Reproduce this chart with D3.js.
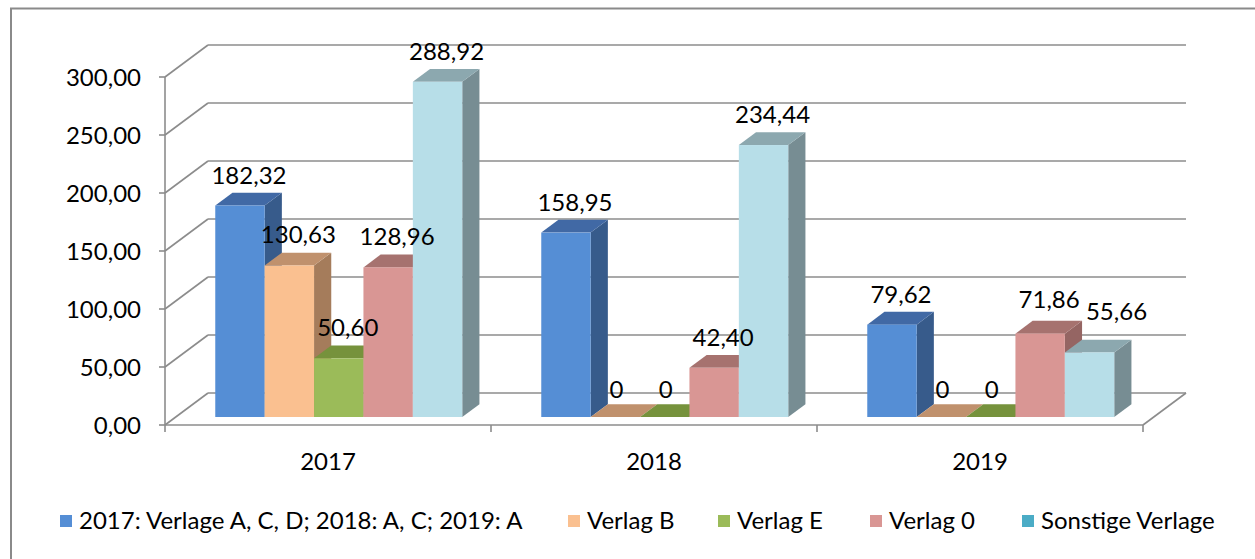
<!DOCTYPE html>
<html><head><meta charset="utf-8">
<script src="https://cdn.jsdelivr.net/npm/d3@7"></script>
<style>html,body{margin:0;padding:0;background:#fff;}svg{display:block;}</style>
</head><body>
<svg id="c" width="1255" height="559"></svg>
<script>
const categories = ["2017", "2018", "2019"];
const seriesNames = ["2017: Verlage A, C, D; 2018: A, C; 2019: A", "Verlag B", "Verlag E", "Verlag 0", "Sonstige Verlage"];
const valuesA = [182.32, 158.95, 79.62];
const valuesB = [130.63, 0, 0];
const valuesE = [50.60, 0, 0];
const values0 = [128.96, 42.40, 71.86];
const valuesS = [288.92, 234.44, 55.66];
const yTicks = [0, 50, 100, 150, 200, 250, 300];

const seriesValues = [valuesA, valuesB, valuesE, values0, valuesS];
const faceColors = [
  {front:"#558ED5", top:"#4169A5", side:"#375B8B", legend:"#558ED5"},
  {front:"#FAC090", top:"#C0916D", side:"#A57C5B", legend:"#FAC090"},
  {front:"#9BBB59", top:"#76923C", side:"#6A8435", legend:"#9BBB59"},
  {front:"#D99694", top:"#A6726F", side:"#956563", legend:"#D99694"},
  {front:"#B7DEE8", top:"#8CA8AF", side:"#778D93", legend:"#4BACC6"}
];

const svg = d3.select("#c");
const font = "Lato, 'Open Sans', sans-serif";
const fs = 24;

svg.append("path").attr("d","M11,559 L11,8.5 L1255,8.5").attr("fill","none").attr("stroke","#8a8a8a").attr("stroke-width",2);

const x0 = 165, x1 = 1143, yBase = 425, yTop = 77;
const D = {x: 43, y: -32};
const y = d3.scaleLinear().domain([0, 300]).range([yBase, yTop]);
const xc = d3.scaleBand().domain(categories).range([x0, x1]);
const xs = d3.scaleBand().domain(d3.range(seriesValues.length)).range([0, xc.bandwidth()]).paddingInner(0).paddingOuter(0.8);

const grid = svg.append("g").attr("stroke","#8c8c8c").attr("stroke-width",1.6).attr("fill","none");
yTicks.forEach(t => {
  grid.append("line").attr("x1", x0 + D.x).attr("x2", x1 + D.x).attr("y1", y(t) + D.y).attr("y2", y(t) + D.y);
  grid.append("line").attr("x1", x0).attr("y1", y(t)).attr("x2", x0 + D.x).attr("y2", y(t) + D.y);
  grid.append("line").attr("x1", x0 - 6).attr("x2", x0).attr("y1", y(t)).attr("y2", y(t));
});
grid.append("line").attr("x1", x0).attr("x2", x0).attr("y1", y(300)).attr("y2", y(0));
grid.append("line").attr("x1", x0).attr("x2", x1).attr("y1", y(0)).attr("y2", y(0));
grid.append("line").attr("x1", x1).attr("y1", y(0)).attr("x2", x1 + D.x).attr("y2", y(0) + D.y);
[...categories.map(c => xc(c)), x1].forEach(px => {
  grid.append("line").attr("x1", px).attr("x2", px).attr("y1", y(0)).attr("y2", y(0) + 7);
});

svg.append("g").selectAll("text").data(yTicks).join("text")
  .attr("x", 141).attr("y", d => y(d)).attr("dy", "0.38em")
  .attr("text-anchor", "end").attr("font-family", font).attr("font-size", fs).attr("fill", "#000")
  .text(d => d3.format(".2f")(d).replace(".", ","));

svg.append("g").selectAll("text").data(categories).join("text")
  .attr("x", d => xc(d) + xc.bandwidth() / 2).attr("y", 470)
  .attr("text-anchor", "middle").attr("font-family", font).attr("font-size", fs).attr("fill", "#000")
  .text(d => d);

const fFront = 0.25, fDepth = 0.40;
const off = {x: D.x * fFront, y: D.y * fFront};
const dep = {x: D.x * fDepth, y: D.y * fDepth};
const bars = svg.append("g");
const labels = [];
categories.forEach((c, ci) => {
  seriesValues.forEach((vals, si) => {
    const v = vals[ci];
    const col = faceColors[si];
    const xl = xc(c) + xs(si) + off.x, xr = xl + xs.bandwidth();
    const yb = y(0) + off.y, yt = y(v) + off.y;
    const g = bars.append("g");
    g.append("path").attr("d", `M${xr},${yb} L${xr + dep.x},${yb + dep.y} L${xr + dep.x},${yt + dep.y} L${xr},${yt} Z`).attr("fill", col.side);
    g.append("path").attr("d", `M${xl},${yt} L${xl + dep.x},${yt + dep.y} L${xr + dep.x},${yt + dep.y} L${xr},${yt} Z`).attr("fill", col.top);
    if (v > 0) g.append("rect").attr("x", xl).attr("y", yt).attr("width", xr - xl).attr("height", yb - yt).attr("fill", col.front);
    // label placement: zero labels sit centred; the last 2019 label is pushed aside to avoid overlapping its neighbour
    let lx = (xl + xr) / 2 + (v === 0 ? 1 : 9), ly = yt - (v === 0 ? 19 : 22);
    if (ci === 2 && si === 4) { lx += 18; ly -= 10; }
    if (ci === 2 && si === 3) { ly -= 4; }
    labels.push({x: lx, y: ly, v});
  });
});
svg.append("g").selectAll("text").data(labels).join("text")
  .attr("x", d => d.x).attr("y", d => d.y)
  .attr("text-anchor", "middle").attr("font-family", font).attr("font-size", fs).attr("fill", "#000")
  .text(d => d.v === 0 ? "0" : d3.format(".2f")(d.v).replace(".", ","));

const legX = [60, 568, 718, 870, 1022];
const leg = svg.append("g");
seriesNames.forEach((n, i) => {
  leg.append("rect").attr("x", legX[i]).attr("y", 515).attr("width", 12).attr("height", 12).attr("fill", faceColors[i].legend);
  leg.append("text").attr("x", legX[i] + 19).attr("y", 529).attr("font-family", font).attr("font-size", fs).attr("fill", "#000").text(n);
});
</script>
</body></html>
